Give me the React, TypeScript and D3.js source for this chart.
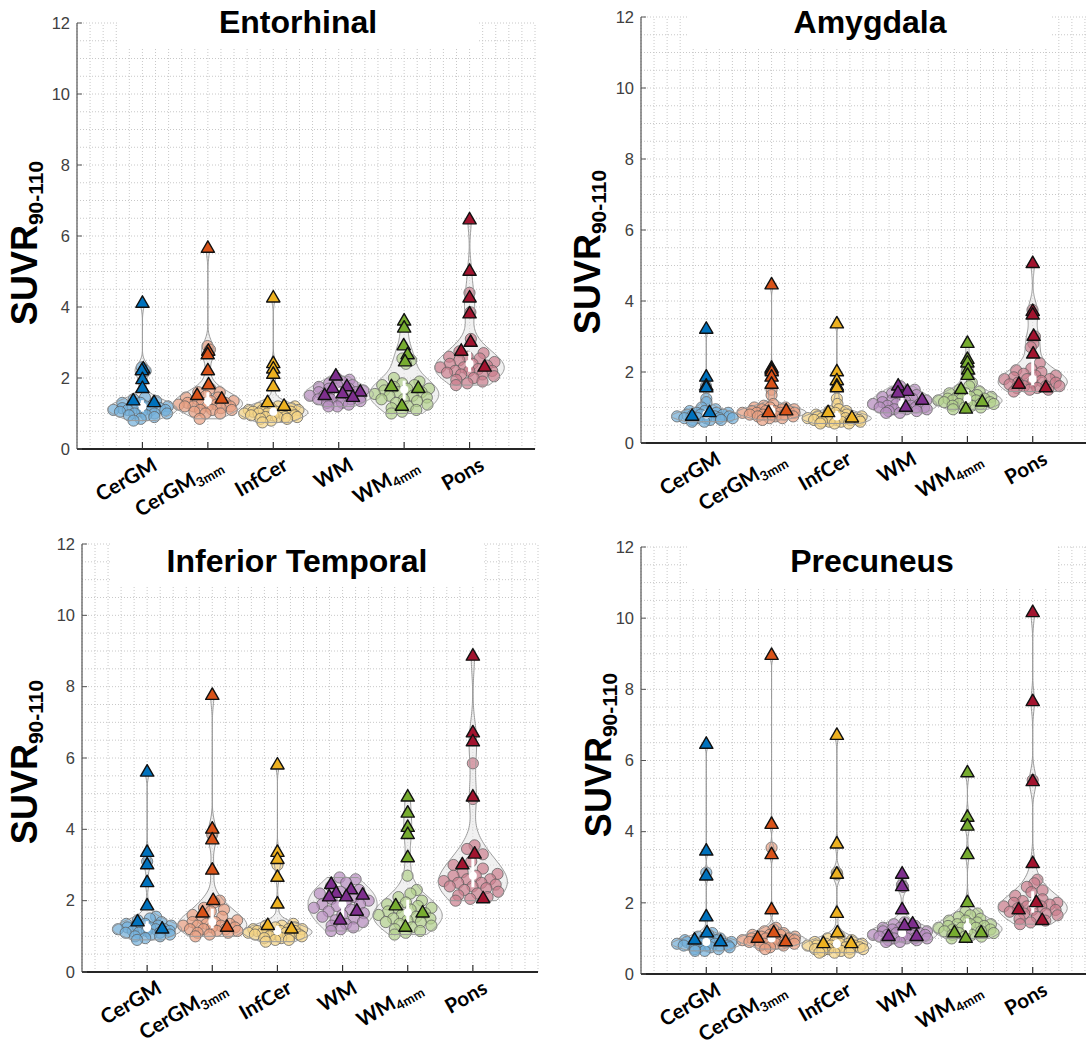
import React from 'react'
import * as d3 from 'd3'

// categories + tick labels
const categories = ['CerGM', 'CerGM3mm', 'InfCer', 'WM', 'WM4mm', 'Pons']
const tickMain = ['CerGM', 'CerGM', 'InfCer', 'WM', 'WM', 'Pons']
const tickSub = ['', '3mm', '', '', '4mm', '']
const yTicks = [0, 2, 4, 6, 8, 10, 12]
const baseColors = ['#0072BD', '#D95319', '#EDB120', '#7E2F8E', '#77AC30', '#A2142F']

// Entorhinal
const entorhinalCircles = [
  [2.3, 2.2, 1.45, 1.4, 1.35, 1.3, 1.3, 1.25, 1.2, 1.2, 1.2, 1.15, 1.15, 1.15, 1.1, 1.1, 1.1, 1.1, 1.05, 1.05, 1.0, 1.0, 1.0, 0.95, 0.95, 0.9, 0.85, 0.8],
  [2.9, 2.8, 1.7, 1.6, 1.6, 1.5, 1.45, 1.45, 1.4, 1.35, 1.35, 1.3, 1.3, 1.3, 1.25, 1.25, 1.2, 1.2, 1.2, 1.2, 1.15, 1.1, 1.1, 1.1, 1.05, 1.0, 1.0, 0.85],
  [1.2, 1.2, 1.2, 1.15, 1.15, 1.15, 1.1, 1.1, 1.1, 1.1, 1.05, 1.05, 1.05, 1.0, 1.0, 1.0, 1.0, 0.95, 0.95, 0.95, 0.9, 0.9, 0.9, 0.9, 0.85, 0.85, 0.8, 0.75],
  [2.0, 1.95, 1.9, 1.85, 1.8, 1.8, 1.75, 1.7, 1.7, 1.65, 1.6, 1.6, 1.6, 1.55, 1.5, 1.5, 1.5, 1.45, 1.45, 1.4, 1.4, 1.4, 1.35, 1.3, 1.3, 1.25, 1.2, 1.2],
  [2.55, 2.5, 2.4, 2.0, 1.9, 1.85, 1.8, 1.8, 1.75, 1.7, 1.7, 1.65, 1.6, 1.6, 1.55, 1.5, 1.5, 1.45, 1.4, 1.4, 1.35, 1.3, 1.25, 1.2, 1.15, 1.1, 1.05, 1.0],
  [4.4, 3.85, 3.1, 2.75, 2.7, 2.6, 2.6, 2.55, 2.5, 2.45, 2.4, 2.4, 2.35, 2.3, 2.3, 2.25, 2.2, 2.2, 2.2, 2.15, 2.1, 2.1, 2.05, 2.0, 1.95, 1.9, 1.85, 1.8],
]
const entorhinalTriangles = [
  [4.1, 2.25, 2.2, 1.95, 1.7, 1.35, 1.3],
  [5.65, 2.75, 2.65, 2.2, 1.8, 1.5, 1.4],
  [4.25, 2.4, 2.25, 2.1, 1.75, 1.3, 1.2],
  [2.05, 1.75, 1.7, 1.6, 1.55, 1.5, 1.45],
  [3.6, 3.4, 2.9, 2.65, 2.45, 1.75, 1.7, 1.2],
  [6.45, 5.0, 4.25, 3.8, 3.0, 2.75, 2.3],
]

// Amygdala
const amygdalaCircles = [
  [1.6, 1.25, 1.15, 1.0, 0.95, 0.9, 0.9, 0.85, 0.85, 0.85, 0.8, 0.8, 0.8, 0.8, 0.75, 0.75, 0.75, 0.75, 0.7, 0.7, 0.7, 0.7, 0.7, 0.65, 0.65, 0.65, 0.6, 0.6],
  [1.5, 1.35, 1.1, 1.05, 1.0, 1.0, 1.0, 0.95, 0.95, 0.95, 0.9, 0.9, 0.9, 0.9, 0.85, 0.85, 0.85, 0.85, 0.8, 0.8, 0.8, 0.8, 0.75, 0.75, 0.75, 0.7, 0.7, 0.65],
  [1.25, 1.1, 0.95, 0.9, 0.9, 0.85, 0.8, 0.8, 0.8, 0.75, 0.75, 0.75, 0.7, 0.7, 0.7, 0.7, 0.7, 0.65, 0.65, 0.65, 0.65, 0.6, 0.6, 0.6, 0.6, 0.55, 0.55, 0.55],
  [1.6, 1.5, 1.45, 1.4, 1.35, 1.3, 1.3, 1.25, 1.2, 1.2, 1.2, 1.15, 1.1, 1.1, 1.1, 1.05, 1.05, 1.0, 1.0, 1.0, 1.0, 0.95, 0.95, 0.95, 0.9, 0.9, 0.85, 0.85],
  [2.0, 1.7, 1.6, 1.5, 1.45, 1.4, 1.4, 1.35, 1.3, 1.3, 1.3, 1.25, 1.25, 1.25, 1.2, 1.2, 1.2, 1.15, 1.15, 1.15, 1.1, 1.1, 1.1, 1.05, 1.05, 1.0, 1.0, 0.95],
  [3.75, 3.0, 2.8, 2.7, 2.25, 2.1, 2.05, 2.0, 1.95, 1.9, 1.9, 1.85, 1.8, 1.8, 1.8, 1.75, 1.7, 1.7, 1.7, 1.65, 1.6, 1.6, 1.6, 1.55, 1.55, 1.5, 1.5, 1.45],
]
const amygdalaTriangles = [
  [3.2, 1.85, 1.6, 1.55, 0.85, 0.75],
  [4.45, 2.1, 2.05, 2.0, 1.85, 1.65, 0.9, 0.85],
  [3.35, 2.0, 1.75, 1.6, 1.55, 0.85, 0.7],
  [1.6, 1.45, 1.4, 1.2, 1.0],
  [2.8, 2.35, 2.25, 2.05, 1.9, 1.5, 1.15, 0.95],
  [5.05, 3.7, 3.6, 3.0, 2.5, 1.65, 1.55],
]

// Inferior Temporal
const inferiorTemporalCircles = [
  [3.1, 1.55, 1.5, 1.45, 1.4, 1.35, 1.35, 1.3, 1.3, 1.3, 1.25, 1.25, 1.2, 1.2, 1.2, 1.2, 1.15, 1.15, 1.15, 1.1, 1.1, 1.1, 1.05, 1.05, 1.0, 1.0, 0.95, 0.9],
  [3.85, 2.0, 1.95, 1.8, 1.75, 1.7, 1.6, 1.55, 1.5, 1.45, 1.4, 1.4, 1.35, 1.35, 1.3, 1.3, 1.3, 1.25, 1.25, 1.2, 1.2, 1.2, 1.15, 1.15, 1.1, 1.1, 1.05, 1.0],
  [3.0, 1.35, 1.3, 1.3, 1.25, 1.25, 1.2, 1.2, 1.2, 1.2, 1.15, 1.15, 1.15, 1.1, 1.1, 1.1, 1.1, 1.05, 1.05, 1.05, 1.0, 1.0, 1.0, 0.95, 0.95, 0.9, 0.9, 0.85],
  [2.65, 2.6, 2.5, 2.4, 2.3, 2.25, 2.2, 2.1, 2.05, 2.0, 1.95, 1.9, 1.9, 1.85, 1.8, 1.75, 1.7, 1.65, 1.6, 1.55, 1.5, 1.45, 1.4, 1.35, 1.3, 1.25, 1.2, 1.15],
  [2.7, 2.3, 2.2, 2.1, 2.0, 1.95, 1.9, 1.85, 1.8, 1.8, 1.75, 1.7, 1.65, 1.6, 1.6, 1.55, 1.5, 1.5, 1.45, 1.4, 1.4, 1.35, 1.3, 1.25, 1.2, 1.15, 1.1, 1.05],
  [5.85, 4.85, 3.55, 3.45, 3.3, 3.1, 3.0, 2.9, 2.8, 2.75, 2.7, 2.7, 2.6, 2.6, 2.55, 2.5, 2.5, 2.45, 2.4, 2.4, 2.35, 2.3, 2.25, 2.2, 2.15, 2.1, 2.05, 2.0],
]
const inferiorTemporalTriangles = [
  [5.6, 3.35, 3.0, 2.5, 1.85, 1.4, 1.2],
  [7.75, 4.0, 3.7, 2.85, 2.0, 1.65, 1.25],
  [5.8, 3.35, 3.15, 2.65, 1.9, 1.3, 1.2],
  [2.45, 2.3, 2.2, 2.15, 2.1, 2.1, 1.7, 1.45],
  [4.9, 4.45, 4.05, 3.85, 3.2, 1.85, 1.65, 1.25],
  [8.85, 6.7, 6.45, 4.9, 3.3, 3.0, 2.05],
]

// Precuneus
const precuneusCircles = [
  [2.85, 1.15, 1.1, 1.05, 1.0, 1.0, 0.95, 0.95, 0.9, 0.9, 0.9, 0.9, 0.85, 0.85, 0.85, 0.85, 0.8, 0.8, 0.8, 0.8, 0.8, 0.75, 0.75, 0.75, 0.7, 0.7, 0.65, 0.65],
  [3.55, 1.3, 1.25, 1.2, 1.15, 1.1, 1.1, 1.1, 1.05, 1.05, 1.0, 1.0, 1.0, 1.0, 0.95, 0.95, 0.95, 0.95, 0.9, 0.9, 0.9, 0.85, 0.85, 0.85, 0.8, 0.8, 0.75, 0.7],
  [2.85, 2.8, 1.05, 1.0, 0.95, 0.9, 0.9, 0.85, 0.85, 0.85, 0.85, 0.8, 0.8, 0.8, 0.8, 0.75, 0.75, 0.75, 0.75, 0.7, 0.7, 0.7, 0.7, 0.65, 0.65, 0.6, 0.6, 0.6],
  [2.5, 2.45, 1.45, 1.4, 1.35, 1.3, 1.3, 1.25, 1.25, 1.2, 1.2, 1.2, 1.15, 1.15, 1.1, 1.1, 1.1, 1.1, 1.05, 1.05, 1.0, 1.0, 1.0, 1.0, 0.95, 0.95, 0.9, 0.9],
  [1.75, 1.7, 1.65, 1.6, 1.55, 1.5, 1.5, 1.45, 1.4, 1.4, 1.4, 1.35, 1.35, 1.3, 1.3, 1.3, 1.25, 1.25, 1.2, 1.2, 1.2, 1.15, 1.15, 1.1, 1.1, 1.05, 1.05, 1.0],
  [5.45, 2.65, 2.55, 2.45, 2.35, 2.3, 2.2, 2.1, 2.05, 2.0, 2.0, 2.0, 1.95, 1.9, 1.9, 1.9, 1.85, 1.8, 1.8, 1.75, 1.7, 1.7, 1.65, 1.6, 1.55, 1.5, 1.45, 1.4],
]
const precuneusTriangles = [
  [6.45, 3.45, 2.75, 1.6, 1.15, 0.95, 0.9],
  [8.95, 4.2, 3.35, 1.8, 1.15, 1.0, 0.9],
  [6.7, 3.65, 2.8, 1.7, 1.15, 0.85, 0.85],
  [2.8, 2.45, 1.8, 1.4, 1.35, 1.05, 1.05],
  [5.65, 4.4, 4.15, 3.35, 2.0, 1.15, 1.15, 1.0],
  [10.15, 7.65, 5.4, 3.1, 2.0, 1.8, 1.5],
]

const panels = [
  { title: 'Entorhinal', circles: entorhinalCircles, triangles: entorhinalTriangles,
    left: 77, right: 535, top: 23, bottom: 449, titleX: 298, titleY: 33, labX: 37, labY: 243, boxL: 117, boxR: 479, boxB: 47 },
  { title: 'Amygdala', circles: amygdalaCircles, triangles: amygdalaTriangles,
    left: 641, right: 1098, top: 17, bottom: 443, titleX: 870, titleY: 33, labX: 600, labY: 252, boxL: 688, boxR: 1052, boxB: 47 },
  { title: 'Inferior Temporal', circles: inferiorTemporalCircles, triangles: inferiorTemporalTriangles,
    left: 82, right: 538, top: 544, bottom: 972, titleX: 297, titleY: 572, labX: 37, labY: 762, boxL: 112, boxR: 482, boxB: 587 },
  { title: 'Precuneus', circles: precuneusCircles, triangles: precuneusTriangles,
    left: 641, right: 1098, top: 547, bottom: 974, titleX: 872, titleY: 572, labX: 611, labY: 755, boxL: 688, boxR: 1056, boxB: 587 },
]

const lighten = (c, t) => d3.interpolateRgb(c, '#ffffff')(t)

// ksdensity-like bandwidth, a bit smoother
function bandwidth(vals) {
  const med = d3.median(vals)
  const mad = d3.median(vals.map(v => Math.abs(v - med)))
  const sig = mad / 0.6745
  return Math.max(1.5 * sig * Math.pow(4 / (3 * vals.length), 0.2), 0.07)
}

function density(vals, bw) {
  return y => d3.mean(vals, v => Math.exp(-0.5 * ((y - v) / bw) ** 2)) / (bw * Math.sqrt(2 * Math.PI))
}

// deterministic spread in [-1, 1]
const spread = (i, off) => (((i * 0.618034 + off) % 1) * 2 - 1)

function Panel({ p }) {
  const x = d3.scaleLinear().domain([0, 7]).range([p.left, p.right])
  const y = d3.scaleLinear().domain([0, 12]).range([p.bottom, p.top])
  const halfW = 0.53 * (x(1) - x(0))

  const xGrid = d3.range(0, 7.001, 0.2)
  const yGrid = d3.range(0, 12.001, 0.5)

  const violins = categories.map((cat, k) => {
    const all = p.circles[k].concat(p.triangles[k])
    const bw = bandwidth(all)
    const f = density(all, bw)
    const lo = d3.min(all), hi = d3.max(all)
    const ys = d3.range(0, 121).map(i => lo + (hi - lo) * i / 120)
    const ds = ys.map(f)
    const dmax = d3.max(ds)
    const cx = x(k + 1)
    const wAt = v => (f(v) / dmax) * halfW
    const area = d3.area()
      .y(d => y(d[0]))
      .x0(d => cx - d[1] / dmax * halfW)
      .x1(d => cx + d[1] / dmax * halfW)
      .curve(d3.curveLinear)
    const sorted = all.slice().sort(d3.ascending)
    return {
      k, cx, wAt, path: area(ys.map((v, i) => [v, ds[i]])),
      q1: d3.quantile(sorted, 0.25), med: d3.quantile(sorted, 0.5), q3: d3.quantile(sorted, 0.75),
    }
  })

  const tri = d3.symbol().type(d3.symbolTriangle).size(76)()

  return (
    <g>
      {/* grid */}
      <g stroke="#c8c8c8" strokeWidth={1} strokeDasharray="1 2">
        {xGrid.map((g, i) => <line key={'gx' + i} x1={x(g)} x2={x(g)} y1={y(0)} y2={y(12)} />)}
        {yGrid.map((g, i) => <line key={'gy' + i} x1={x(0)} x2={x(7)} y1={y(g)} y2={y(g)} />)}
      </g>
      <rect x={p.boxL} y={p.top - 2} width={p.boxR - p.boxL} height={p.boxB - p.top + 2} fill="#fff" />

      {/* violins fill */}
      {violins.map(v => <path key={'vf' + v.k} d={v.path} fill="#e6e6e6" fillOpacity={0.55} stroke="none" />)}

      {/* circles */}
      {violins.map(v => p.circles[v.k].map((val, i) => (
        <circle key={'c' + v.k + '-' + i} cx={v.cx + spread(i, 0.37) * Math.max(v.wAt(val) - 4, 0)} cy={y(val)} r={5.6}
          fill={lighten(baseColors[v.k], 0.45)} fillOpacity={0.7} stroke="#5e5e5e" strokeOpacity={0.75} strokeWidth={1} />
      )))}

      {/* violin outline */}
      {violins.map(v => <path key={'vo' + v.k} d={v.path} fill="none" stroke="#9a9a9a" strokeWidth={1} />)}

      {/* box + median */}
      {violins.map(v => (
        <g key={'b' + v.k}>
          <rect x={v.cx - 1.5} y={y(v.q3)} width={3} height={y(v.q1) - y(v.q3)} fill="#fff" />
          <circle cx={v.cx} cy={y(v.med)} r={4} fill="#fff" />
        </g>
      ))}

      {/* triangles */}
      {violins.map(v => p.triangles[v.k].map((val, i) => (
        <path key={'t' + v.k + '-' + i} d={tri}
          transform={`translate(${v.cx + spread(i, 0.11) * Math.max(v.wAt(val) - 5, 0) * 0.8},${y(val)})`}
          fill={baseColors[v.k]} stroke="#111" strokeWidth={1.4} strokeLinejoin="round" />
      )))}

      {/* axes */}
      <line x1={x(0)} x2={x(0)} y1={y(0)} y2={y(12)} stroke="#555" strokeWidth={1.2} />
      <line x1={x(0)} x2={x(7)} y1={y(0)} y2={y(0)} stroke="#262626" strokeWidth={2} />
      {yTicks.map(t => (
        <g key={'yt' + t}>
          <line x1={x(0)} x2={x(0) + 5} y1={y(t)} y2={y(t)} stroke="#555" />
          <text x={x(0) - 7} y={y(t)} dy="0.35em" textAnchor="end" fontSize={16.5} fill="#404040"
            fontFamily="'Liberation Sans', Arial, sans-serif">{t}</text>
        </g>
      ))}
      {categories.map((c, k) => (
        <g key={'xt' + k}>
          <line x1={x(k + 1)} x2={x(k + 1)} y1={y(0)} y2={y(0) - 7} stroke="#333" strokeWidth={1.2} />
          <text transform={`translate(${x(k + 1) + 16},${y(0) + 20}) rotate(-30)`} textAnchor="end"
            fontSize={20.5} fontWeight="bold" fontFamily="Lato, 'Open Sans', sans-serif" fill="#000">
            {tickMain[k]}{tickSub[k] && <tspan fontSize={13.5} dy={4}>{tickSub[k]}</tspan>}
          </text>
        </g>
      ))}

      {/* title + y label */}
      <text x={p.titleX} y={p.titleY} textAnchor="middle" fontSize={32} fontWeight="bold"
        fontFamily="'Liberation Sans', Arial, sans-serif">{p.title}</text>
      <text transform={`translate(${p.labX},${p.labY}) rotate(-90)`} textAnchor="middle" fontSize={36}
        fontWeight="bold" fontFamily="'Liberation Sans', Arial, sans-serif">
        SUVR<tspan fontSize={21} dy={6}>90-110</tspan>
      </text>
    </g>
  )
}

export default function App() {
  return (
    <svg width={1086} height={1048} style={{ position: 'absolute', left: 0, top: 0, background: '#fff' }}>
      <rect width={1086} height={1048} fill="#fff" />
      {panels.map(p => <Panel key={p.title} p={p} />)}
    </svg>
  )
}
